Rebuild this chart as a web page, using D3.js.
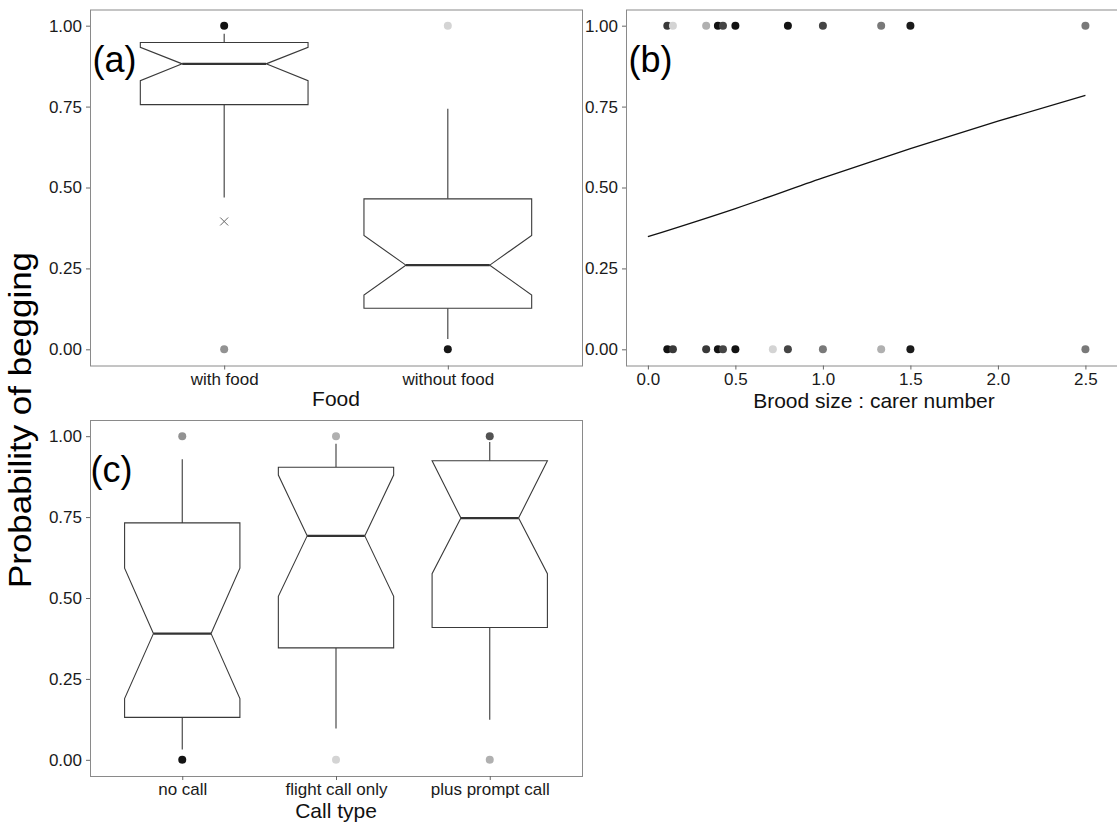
<!DOCTYPE html>
<html>
<head>
<meta charset="utf-8">
<script src="https://cdn.jsdelivr.net/npm/d3@7"></script>
<style>
  body { margin: 0; background: #fff; }
  svg { display: block; font-family: 'Liberation Sans', Arial, sans-serif; }
</style>
</head>
<body>
<svg id="chart" width="1117" height="823"></svg>
<script>
// ---------- Panel (a): Food ----------
const foodCats = ["with food", "without food"];
const foodLower   = [0.469, 0.032];
const foodQ1      = [0.756, 0.127];
const foodNotchLo = [0.830, 0.168];
const foodMedian  = [0.882, 0.260];
const foodNotchHi = [0.933, 0.352];
const foodQ3      = [0.948, 0.465];
const foodUpper   = [0.975, 0.743];
const foodCrossY  = [0.395, null];
const foodPtCat   = ["with food", "with food", "without food", "without food"];
const foodPtY     = [1, 0, 1, 0];
const foodPtCount = [14, 3, 1, 13];

// ---------- Panel (b): Brood size : carer number ----------
const broodPtX     = [0.111, 0.143, 0.333, 0.400, 0.429, 0.500, 0.800, 1.000, 1.333, 1.500, 2.500,
                      0.111, 0.143, 0.333, 0.400, 0.429, 0.500, 0.714, 0.800, 1.000, 1.333, 1.500, 2.500];
const broodPtY     = [1, 1, 1, 1, 1, 1, 1, 1, 1, 1, 1,
                      0, 0, 0, 0, 0, 0, 0, 0, 0, 0, 0, 0];
const broodPtCount = [8, 1, 2, 14, 7, 14, 14, 7, 4, 12, 4,
                      14, 8, 8, 14, 7, 14, 1, 7, 4, 2, 12, 4];
const fitX = [0.0, 0.5, 1.0, 1.5, 2.0, 2.5];
const fitY = [0.348, 0.435, 0.530, 0.620, 0.705, 0.785];
const broodTicks = [0.0, 0.5, 1.0, 1.5, 2.0, 2.5];

// ---------- Panel (c): Call type ----------
const callCats = ["no call", "flight call only", "plus prompt call"];
const callLower   = [0.032, 0.097, 0.124];
const callQ1      = [0.131, 0.346, 0.409];
const callNotchLo = [0.189, 0.505, 0.575];
const callMedian  = [0.390, 0.692, 0.747];
const callNotchHi = [0.592, 0.880, 0.924];
const callQ3      = [0.732, 0.904, 0.924];
const callUpper   = [0.929, 0.977, 0.982];
const callPtCat   = ["no call", "no call", "flight call only", "flight call only", "plus prompt call", "plus prompt call"];
const callPtY     = [1, 0, 1, 0, 1, 0];
const callPtCount = [3, 14, 2, 1, 6, 2];

const yTicks = [0, 0.25, 0.5, 0.75, 1];

// ---------- drawing ----------
const svg = d3.select("#chart");
const FONT_TICK = 17, FONT_TITLE = 21;
const ALPHA = 0.17;
const shade = n => { const g = Math.round(255 * Math.pow(1 - ALPHA, n)); return d3.rgb(g, g, g).toString(); };

function panelFrame(x0, x1, y0, y1) {
  svg.append("rect").attr("x", x0).attr("y", y0).attr("width", x1 - x0).attr("height", y1 - y0)
    .attr("fill", "#fff");
}
function panelBorder(x0, x1, y0, y1) {
  svg.append("rect").attr("x", x0 + 0.5).attr("y", y0 + 0.5).attr("width", x1 - x0).attr("height", y1 - y0)
    .attr("fill", "none").attr("stroke", "#8a8a8a").attr("stroke-width", 1);
}
function styleAxis(g) {
  g.select(".domain").remove();
  g.selectAll(".tick line").attr("stroke", "#666");
  g.selectAll(".tick text").attr("font-size", FONT_TICK).attr("fill", "#1a1a1a")
    .attr("font-family", "'Liberation Sans', Arial, sans-serif");
}
function yAxis(y, x0) {
  const g = svg.append("g").attr("transform", `translate(${x0},0)`)
    .call(d3.axisLeft(y).tickValues(yTicks).tickFormat(d3.format(".2f")).tickSize(4).tickPadding(4));
  styleAxis(g);
}
function xAxis(axis, y0, pad) {
  const g = svg.append("g").attr("transform", `translate(0,${y0})`).call(axis.tickSize(4).tickPadding(pad));
  styleAxis(g);
}
function title(txt, x, y) {
  svg.append("text").attr("x", x).attr("y", y).attr("text-anchor", "middle")
    .attr("font-size", FONT_TITLE).attr("fill", "#111").text(txt);
}
function panelLabel(txt, x, y) {
  svg.append("text").attr("x", x).attr("y", y).attr("font-size", 36).attr("fill", "#000").text(txt);
}

function boxes(cats, xs, y, stats) {
  const step = xs.step();
  const hw = 0.375 * step, nw = hw * 0.5;
  const g = svg.append("g");
  cats.forEach((c, i) => {
    const cx = xs(c);
    const [lo, q1, nl, md, nh, q3, up] = stats.map(a => y(a[i]));
    g.append("line").attr("x1", cx).attr("x2", cx).attr("y1", q3).attr("y2", up)
      .attr("stroke", "#3a3a3a").attr("stroke-width", 1.1);
    g.append("line").attr("x1", cx).attr("x2", cx).attr("y1", q1).attr("y2", lo)
      .attr("stroke", "#3a3a3a").attr("stroke-width", 1.1);
    const p = d3.path();
    p.moveTo(cx - hw, q3); p.lineTo(cx + hw, q3); p.lineTo(cx + hw, nh); p.lineTo(cx + nw, md);
    p.lineTo(cx + hw, nl); p.lineTo(cx + hw, q1); p.lineTo(cx - hw, q1); p.lineTo(cx - hw, nl);
    p.lineTo(cx - nw, md); p.lineTo(cx - hw, nh); p.closePath();
    g.append("path").attr("d", p.toString()).attr("fill", "#fff")
      .attr("stroke", "#3a3a3a").attr("stroke-width", 1.1).attr("stroke-linejoin", "miter");
    g.append("line").attr("x1", cx - nw).attr("x2", cx + nw).attr("y1", md).attr("y2", md)
      .attr("stroke", "#333").attr("stroke-width", 2.2);
  });
}
function points(xs, y, px, py, pc) {
  svg.append("g").selectAll("circle").data(px.map((d, i) => i)).join("circle")
    .attr("cx", i => xs(px[i])).attr("cy", i => y(py[i])).attr("r", 4)
    .attr("fill", i => shade(pc[i]));
}

// ----- Panel (a)
const A = { x0: 90, x1: 582, y0: 9.5, y1: 365.5 };
const xA = d3.scalePoint().domain(foodCats).range([A.x0, A.x1]).padding(0.6);
const yA = d3.scaleLinear().domain([-0.05, 1.05]).range([A.y1, A.y0]);
panelFrame(A.x0, A.x1, A.y0, A.y1);
boxes(foodCats, xA, yA, [foodLower, foodQ1, foodNotchLo, foodMedian, foodNotchHi, foodQ3, foodUpper]);
foodCats.forEach((c, i) => {
  if (foodCrossY[i] == null) return;
  const cx = xA(c), cy = yA(foodCrossY[i]), s = 4;
  svg.append("path").attr("d", `M${cx - s},${cy - s}L${cx + s},${cy + s}M${cx - s},${cy + s}L${cx + s},${cy - s}`)
    .attr("stroke", "#666").attr("stroke-width", 1);
});
points(xA, yA, foodPtCat, foodPtY, foodPtCount);
panelBorder(A.x0, A.x1, A.y0, A.y1);
yAxis(yA, A.x0);
xAxis(d3.axisBottom(xA), A.y1, 3.5);
title("Food", (A.x0 + A.x1) / 2, 406);
panelLabel("(a)", A.x0 + 2.5, 72);

// ----- Panel (b)
const B = { x0: 626, x1: 1122, y0: 9.5, y1: 365.5 };
const xB = d3.scaleLinear().domain([-0.125, 2.709]).range([B.x0, B.x1]);
const yB = d3.scaleLinear().domain([-0.05, 1.05]).range([B.y1, B.y0]);
panelFrame(B.x0, B.x1, B.y0, B.y1);
points(xB, yB, broodPtX, broodPtY, broodPtCount);
svg.append("path").datum(fitX.map((d, i) => [d, fitY[i]]))
  .attr("d", d3.line().x(d => xB(d[0])).y(d => yB(d[1])).curve(d3.curveMonotoneX))
  .attr("fill", "none").attr("stroke", "#111").attr("stroke-width", 1.3);
panelBorder(B.x0, B.x1, B.y0, B.y1);
yAxis(yB, B.x0);
xAxis(d3.axisBottom(xB).tickValues(broodTicks).tickFormat(d3.format(".1f")), B.y1, 3.5);
title("Brood size : carer number", (B.x0 + B.x1) / 2, 408);
panelLabel("(b)", B.x0 + 2.5, 72);

// ----- Panel (c)
const C = { x0: 90, x1: 582, y0: 420, y1: 776 };
const xC = d3.scalePoint().domain(callCats).range([C.x0, C.x1]).padding(0.6);
const yC = d3.scaleLinear().domain([-0.05, 1.05]).range([C.y1, C.y0]);
panelFrame(C.x0, C.x1, C.y0, C.y1);
boxes(callCats, xC, yC, [callLower, callQ1, callNotchLo, callMedian, callNotchHi, callQ3, callUpper]);
points(xC, yC, callPtCat, callPtY, callPtCount);
panelBorder(C.x0, C.x1, C.y0, C.y1);
yAxis(yC, C.x0);
xAxis(d3.axisBottom(xC), C.y1, 2.5);
title("Call type", (C.x0 + C.x1) / 2, 818);
panelLabel("(c)", C.x0 + 0.5, 482);

// ----- shared y title
svg.append("text").attr("transform", "translate(31,420) rotate(-90)")
  .attr("text-anchor", "middle").attr("font-size", 32).attr("fill", "#000")
  .attr("textLength", 336).attr("lengthAdjust", "spacingAndGlyphs")
  .text("Probability of begging");
</script>
</body>
</html>
